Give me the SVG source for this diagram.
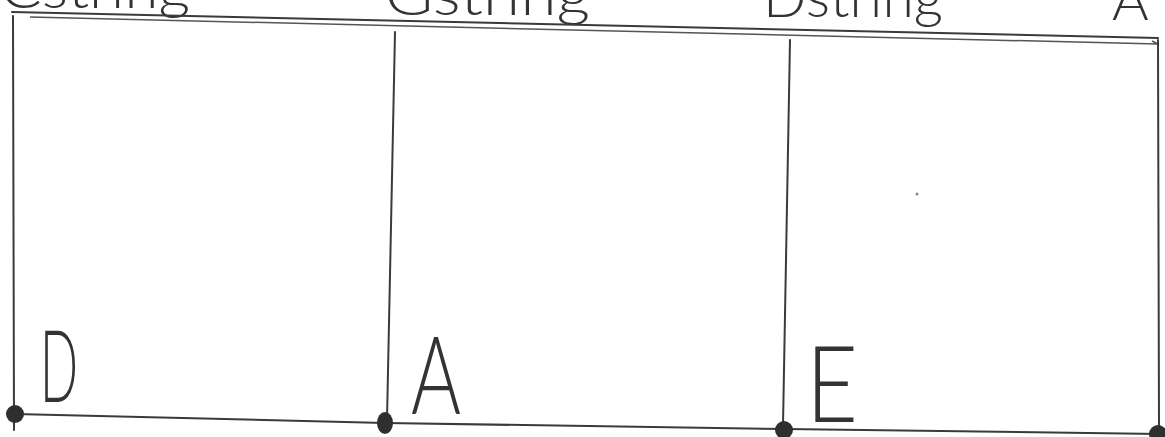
<svg xmlns="http://www.w3.org/2000/svg" width="1165" height="437" viewBox="0 0 1165 437">
<style>
.ln{stroke:#3a3a3a;stroke-width:2;fill:none;stroke-linecap:round}
.lt{stroke:#555;stroke-width:1.5;fill:none}
.lbl{font-family:Lato,"Open Sans","Liberation Sans",sans-serif;font-weight:300;fill:#333}
.dot{fill:#2f2f2f}
</style>
<rect width="1165" height="437" fill="#ffffff"/>
<g id="labels-top">
<text class="lbl" x="0" y="8" font-size="56" textLength="190" lengthAdjust="spacingAndGlyphs">Cstring</text>
<text class="lbl" x="385" y="15" font-size="56" textLength="205" lengthAdjust="spacingAndGlyphs">Gstring</text>
<text class="lbl" x="763" y="17" font-size="56" textLength="180" lengthAdjust="spacingAndGlyphs">Dstring</text>
<text class="lbl" x="1112" y="20" font-size="56">A</text>
</g>
<g id="connectors">
<path class="ln" d="M12,12 L1158,38"/>
<path class="lt" d="M30,17 L1158,44 L1152,41"/>
<path class="ln" d="M13,16 L14,430"/>
<path class="ln" d="M395,32 L387,420"/>
<path class="ln" d="M790,40 L783,425"/>
<path class="ln" d="M1158,40 L1159,430"/>
<path class="ln" d="M15,414 L385,423 L785,429 L1160,434"/>
</g>
<g id="node-D">
<circle class="dot" cx="15" cy="414" r="9"/>
<text class="lbl" x="40" y="402" font-size="100" textLength="38" lengthAdjust="spacingAndGlyphs">D</text>
</g>
<g id="node-A">
<ellipse class="dot" cx="385" cy="423" rx="8" ry="11"/>
<text class="lbl" x="411" y="414" font-size="108" textLength="50" lengthAdjust="spacingAndGlyphs">A</text>
</g>
<g id="node-E">
<ellipse class="dot" cx="784" cy="430" rx="9" ry="9"/>
<text class="lbl" x="806" y="422" font-size="106" textLength="52" lengthAdjust="spacingAndGlyphs">E</text>
</g>
<g id="node-end">
<ellipse class="dot" cx="1158" cy="434" rx="9" ry="9"/>
</g>
<circle cx="917" cy="194" r="1.5" fill="#888"/>
</svg>
